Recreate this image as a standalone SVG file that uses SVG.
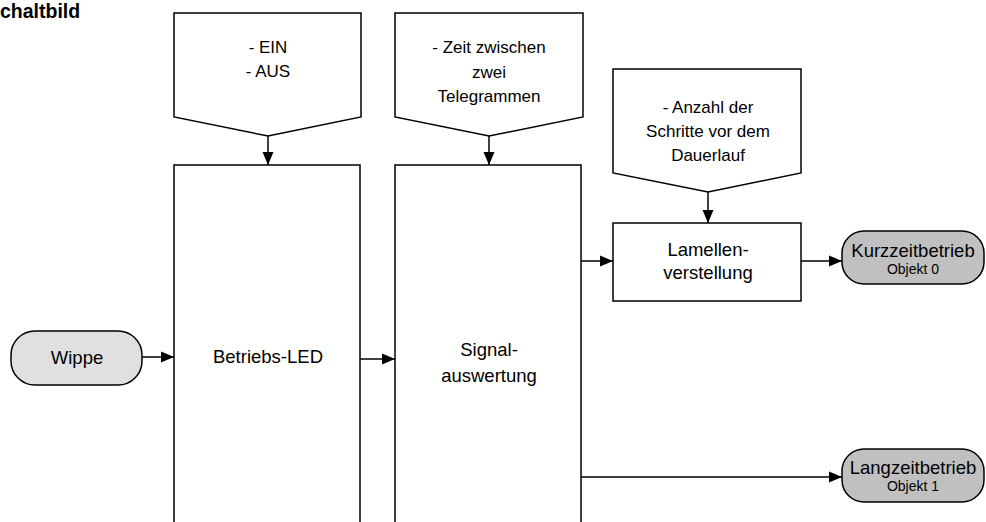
<svg xmlns="http://www.w3.org/2000/svg" width="986" height="522" viewBox="0 0 986 522">
<defs>
<style>
.s{fill:#fff;stroke:#000;stroke-width:1.5}
.p1{fill:#e0e0e0;stroke:#000;stroke-width:1.5}
.p2{fill:#c0c0c0;stroke:#000;stroke-width:1.5}
.c{fill:none;stroke:#000;stroke-width:1.5}
text{font-family:"Liberation Sans",Arial,sans-serif;fill:#000;text-anchor:middle}
.t{font-size:17px}
.m{font-size:18.5px}
.o{font-size:14px}
</style>
<marker id="a" markerUnits="userSpaceOnUse" markerWidth="13" markerHeight="13" viewBox="0 0 13 13" refX="13" refY="6.5" orient="auto">
<path d="M0,1 L13,6.5 L0,12 Z" fill="#000"/>
</marker>
</defs>
<text x="0" y="18" style="font-size:19.5px;font-weight:bold;text-anchor:start">chaltbild</text>
<g id="in1"><path class="s" d="M174,13 H361 V117 L268,136 L174,117 Z"/><text class="t" x="268" y="53">- EIN</text><text class="t" x="268" y="77">- AUS</text></g>
<g id="in2"><path class="s" d="M395,13 H583 V117 L489,136 L395,117 Z"/><text class="t" x="489" y="53">- Zeit zwischen</text><text class="t" x="489" y="78">zwei</text><text class="t" x="489" y="102">Telegrammen</text></g>
<g id="in3"><path class="s" d="M613,69 H801 V173 L708,192 L613,173 Z"/><text class="t" x="708" y="113">- Anzahl der</text><text class="t" x="708" y="137">Schritte vor dem</text><text class="t" x="708" y="161">Dauerlauf</text></g>
<g id="led"><rect class="s" x="174" y="165" width="186" height="400"/><text class="m" x="268" y="363">Betriebs-LED</text></g>
<g id="sig"><rect class="s" x="395" y="165" width="186" height="400"/><text class="m" x="489" y="356">Signal-</text><text class="m" x="489" y="382">auswertung</text></g>
<g id="lam"><rect class="s" x="613" y="223" width="188" height="78"/><text class="m" x="708" y="256">Lamellen-</text><text class="m" x="708" y="279">verstellung</text></g>
<g id="wippe"><rect class="p1" x="11" y="331" width="131" height="54" rx="24"/><text class="m" x="77" y="364">Wippe</text></g>
<g id="kurz"><rect class="p2" x="842" y="231" width="142" height="53" rx="22"/><text class="m" x="913" y="257">Kurzzeitbetrieb</text><text class="o" x="913" y="274">Objekt 0</text></g>
<g id="lang"><rect class="p2" x="842" y="449" width="142" height="53" rx="22"/><text class="m" x="913" y="474">Langzeitbetrieb</text><text class="o" x="913" y="491">Objekt 1</text></g>
<g id="connectors">
<path class="c" marker-end="url(#a)" d="M268,136 V165"/>
<path class="c" marker-end="url(#a)" d="M489,136 V165"/>
<path class="c" marker-end="url(#a)" d="M708,192 V223"/>
<path class="c" marker-end="url(#a)" d="M142,357 H174"/>
<path class="c" marker-end="url(#a)" d="M360,359 H395"/>
<path class="c" marker-end="url(#a)" d="M581,261 H613"/>
<path class="c" marker-end="url(#a)" d="M801,261 H842"/>
<path class="c" marker-end="url(#a)" d="M581,477 H842"/>
</g>
</svg>
